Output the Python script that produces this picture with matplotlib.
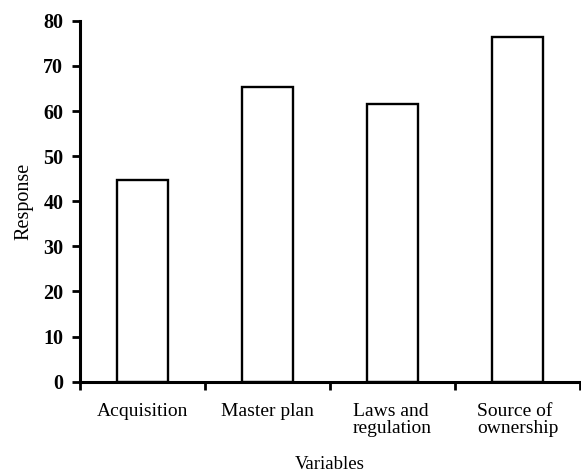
import numpy as np
import matplotlib
matplotlib.use("Agg")
import matplotlib.pyplot as plt
from matplotlib.ticker import FixedLocator

categories = ["Acquisition", "Master plan", "Laws and\nregulation", "Source of\nownership"]
responses = [44.7, 65.4, 61.6, 76.4]
y_ticks = [0, 10, 20, 30, 40, 50, 60, 70, 80]

plt.rcParams["font.family"] = "Liberation Serif"

fig = plt.figure(figsize=(5.81, 4.72), dpi=100)
ax = fig.add_axes([0.1377, 0.1913, 0.8606, 0.7647])

x = np.arange(len(categories))
ax.bar(x, responses, width=0.41, color="white", edgecolor="black", linewidth=1.7)

ax.set_xlim(-0.5, len(categories) - 0.5)
ax.set_ylim(0, 80)
ax.set_yticks(y_ticks)
ax.set_yticklabels([str(t) for t in y_ticks], fontsize=14.5, fontweight="bold")

ax.set_xticks(x)
ax.set_xticklabels(categories, fontsize=14, multialignment="left", linespacing=1.0)
ax.xaxis.set_minor_locator(FixedLocator(np.arange(-0.5, len(categories), 1.0)))
ax.tick_params(axis="x", which="major", length=0, pad=15)
ax.tick_params(axis="x", which="minor", direction="out", length=6, width=2)
ax.tick_params(axis="y", direction="out", length=6, width=2, pad=6)

for side in ["top", "right"]:
    ax.spines[side].set_visible(False)
for side in ["left", "bottom"]:
    ax.spines[side].set_linewidth(2.2)

ax.set_ylabel("Response", fontsize=14.5, labelpad=7)
ax.set_xlabel("Variables", fontsize=13.5, labelpad=14)

fig.savefig("out.png", dpi=100)
